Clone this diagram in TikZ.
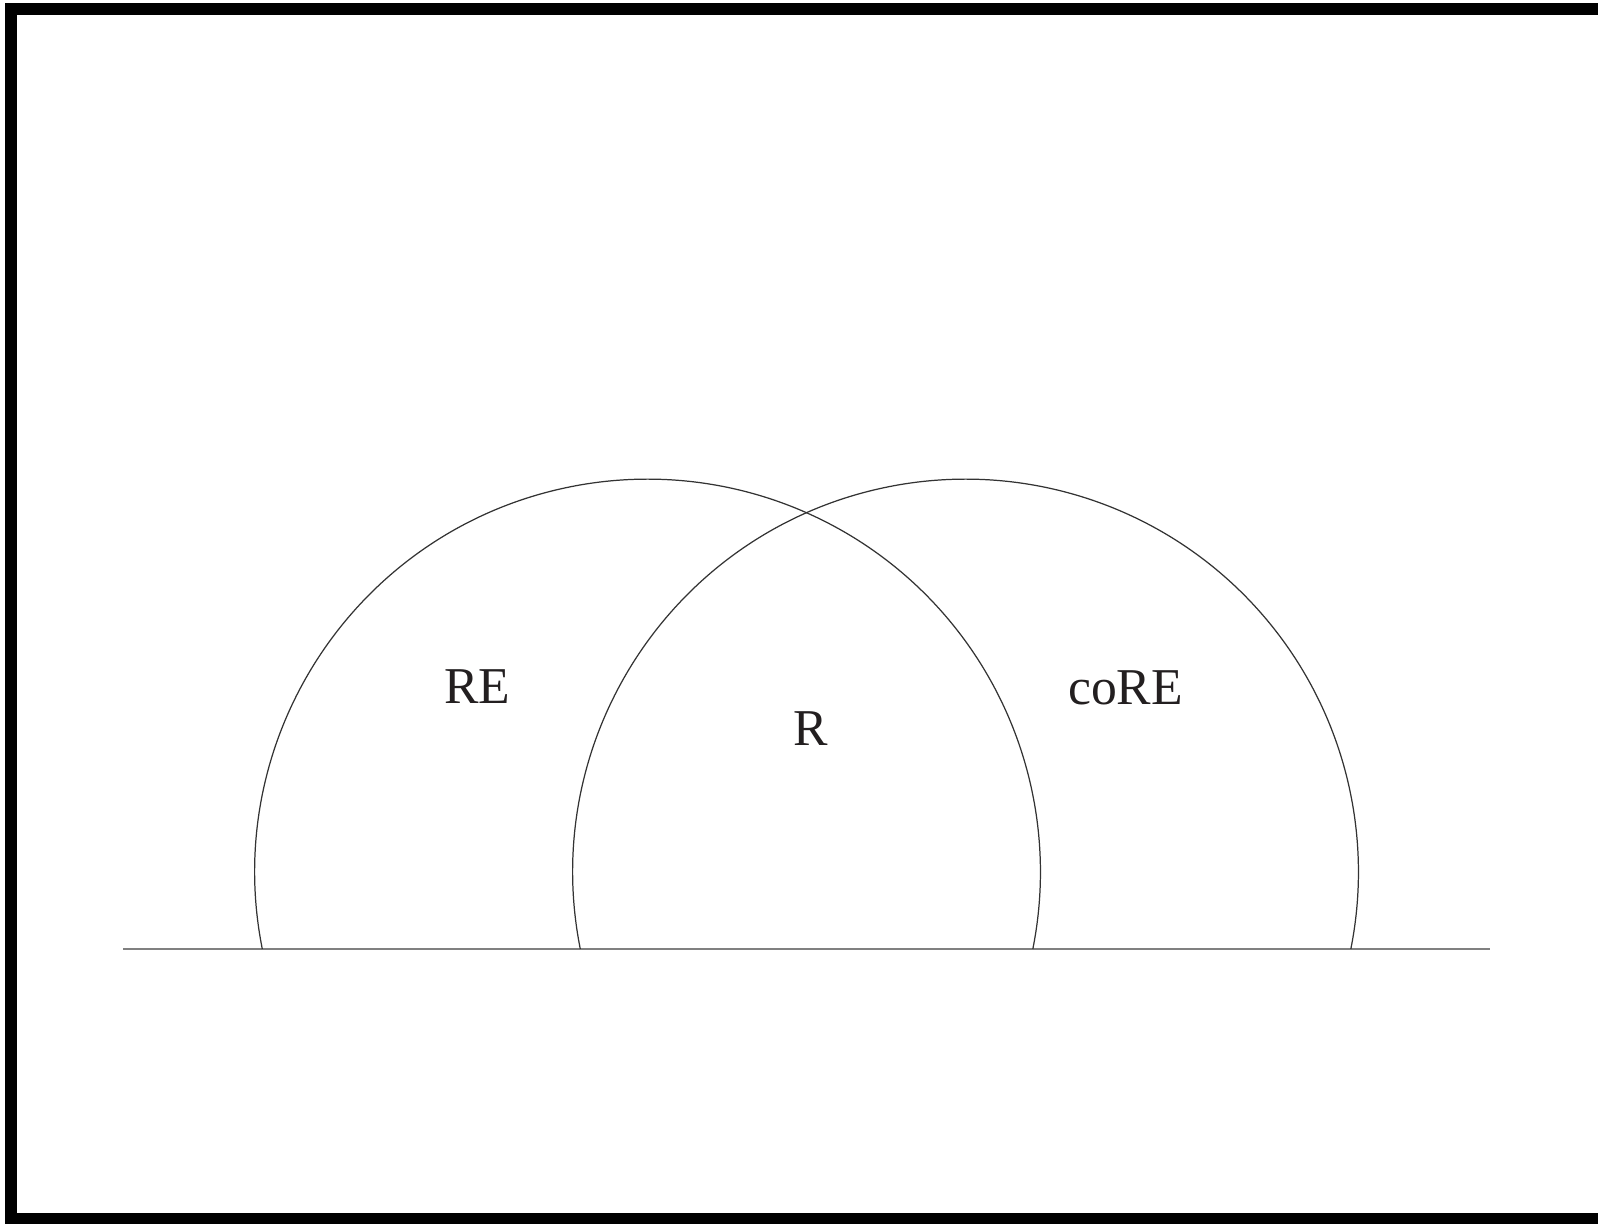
\documentclass[tikz,border=0pt]{standalone}
\usepackage{fontspec}
\setmainfont{Liberation Serif}
\usetikzlibrary{positioning}
\definecolor{inkgray}{RGB}{35,31,32}

\begin{document}
\begin{tikzpicture}[x=1cm,y=1cm]
  \tikzset{
    setlabel/.style={text=inkgray,inner sep=0pt,font=\fontsize{14.7}{17}\selectfont},
    setarc/.style={draw=black!80,line width=0.35pt},
    axisline/.style={draw=black!50,line width=0.5pt}
  }
  \useasboundingbox (0,0) rectangle (15.98,12.23);
  % frame, cut at the right and the bottom
  \draw[line width=0.12cm] (0.11,0.04) rectangle (16.4,12.14);
  % baseline
  \coordinate (axisL) at (1.23,2.74);
  \coordinate (axisR) at (14.90,2.74);
  \draw[axisline] (axisL) -- (axisR);
  % the two half circles
  \coordinate (reFoot) at (2.623,2.74);
  \coordinate (coreFoot) at (5.803,2.74);
  \draw[setarc] (reFoot) arc[start angle=191.3,end angle=-11.3,radius=3.929];
  \draw[setarc] (coreFoot) arc[start angle=191.3,end angle=-11.3,radius=3.929];
  % labels
  \node[setlabel] (labelRE) at (4.775,5.36) {RE};
  \node[setlabel] (labelR) at (8.11,4.94) {R};
  \node[setlabel] (labelcoRE) at (11.255,5.355) {coRE};
\end{tikzpicture}
\end{document}
